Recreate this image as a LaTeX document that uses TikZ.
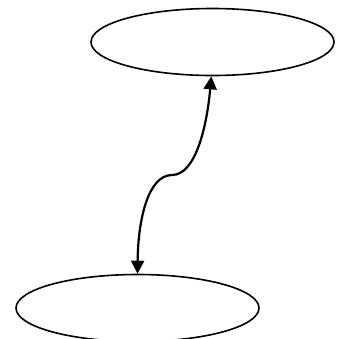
\documentclass[tikz,border=0pt]{standalone}
\usetikzlibrary{shapes.geometric,arrows.meta}
\begin{document}
\begin{tikzpicture}[x=1pt,y=-1pt]
\useasboundingbox (0,0) rectangle (344,338);
\tikzset{
  oval/.style={draw, ellipse, line width=1.6pt, minimum width=243pt, minimum height=67pt, inner sep=0pt},
  link/.style={line width=2.2pt, {Triangle[length=13pt,width=13pt]}-{Triangle[length=13pt,width=13pt]}}
}
\node[oval] (a) at (212.5,42) {};
\node[oval] (b) at (137.5,308) {};
\coordinate (m) at (172,175);
\draw[link] (b.north) .. controls (138,220) and (148,175) .. (m)
  .. controls (196,175) and (207,125) .. (a.268);
\end{tikzpicture}
\end{document}
